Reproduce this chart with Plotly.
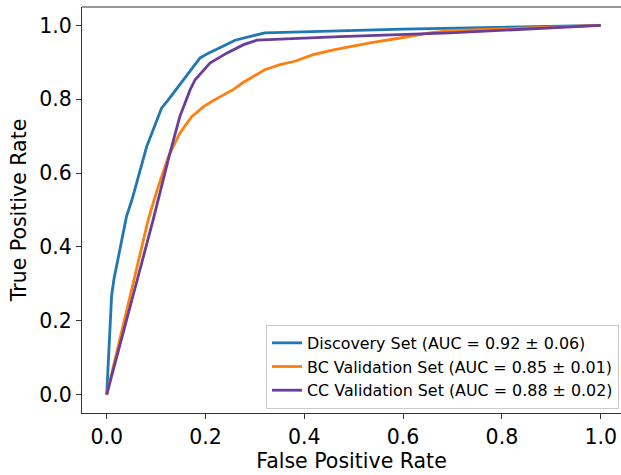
import plotly.graph_objects as go

# Discovery Set
fpr_disc = [0, 0.010, 0.015, 0.030, 0.040, 0.051, 0.071, 0.081, 0.111, 0.125, 0.189, 0.206, 0.260, 0.320, 0.600, 1.0]
tpr_disc = [0, 0.269, 0.315, 0.414, 0.482, 0.527, 0.627, 0.672, 0.776, 0.799, 0.912, 0.925, 0.960, 0.980, 0.990, 1.0]

# BC Validation Set
fpr_bc = [0, 0.084, 0.101, 0.125, 0.148, 0.172, 0.196, 0.219, 0.256, 0.277, 0.320, 0.351, 0.381, 0.418, 0.459, 0.533, 0.594, 0.654, 0.695, 1.0]
tpr_bc = [0, 0.473, 0.550, 0.645, 0.708, 0.753, 0.780, 0.799, 0.826, 0.846, 0.880, 0.894, 0.903, 0.921, 0.934, 0.953, 0.966, 0.980, 0.986, 1.0]

# CC Validation Set
fpr_cc = [0, 0.094, 0.128, 0.148, 0.169, 0.179, 0.209, 0.243, 0.277, 0.304, 0.472, 0.695, 1.0]
tpr_cc = [0, 0.473, 0.654, 0.753, 0.826, 0.853, 0.898, 0.925, 0.948, 0.960, 0.970, 0.980, 1.0]

names = ["Discovery Set (AUC = 0.92 ± 0.06)",
         "BC Validation Set (AUC = 0.85 ± 0.01)",
         "CC Validation Set (AUC = 0.88 ± 0.02)"]
colors = ["#1f77b4", "#ff7f0e", "#6a3d9a"]

x_ticks = [0.0, 0.2, 0.4, 0.6, 0.8, 1.0]
y_ticks = [0.0, 0.2, 0.4, 0.6, 0.8, 1.0]

fig = go.Figure()
for xs, ys, nm, c in zip([fpr_disc, fpr_bc, fpr_cc], [tpr_disc, tpr_bc, tpr_cc], names, colors):
    fig.add_trace(go.Scatter(x=xs, y=ys, mode="lines", name=nm,
                             line=dict(color=c, width=2.8)))

font = "DejaVu Sans"
axis_common = dict(
    showgrid=False, zeroline=False, showline=True, linecolor="#333333", linewidth=1.1,
    ticks="outside", ticklen=5, tickwidth=1.1, tickcolor="#333333",
    tickfont=dict(family=font, size=20.5, color="black"), tickformat=".1f",
)
fig.update_layout(
    width=621, height=475,
    margin=dict(l=82, r=0, t=7, b=62),
    paper_bgcolor="white", plot_bgcolor="white",
    font=dict(family=font, color="black"),
    xaxis=dict(range=[-0.05, -0.05 + 539 / 494], tickvals=x_ticks,
               title=dict(text="False Positive Rate", font=dict(family=font, size=20.5), standoff=5),
               **axis_common),
    yaxis=dict(range=[-0.05, 1.05], tickvals=y_ticks,
               title=dict(text="True Positive Rate", font=dict(family=font, size=20.5), standoff=7),
               **axis_common),
    legend=dict(x=0.9963, y=0.0098, xanchor="right", yanchor="bottom",
                bgcolor="white", bordercolor="#cccccc", borderwidth=1,
                font=dict(family=font, size=15.9, color="black"), tracegroupgap=0),
    showlegend=True,
)
fig.add_shape(type="line", xref="paper", yref="paper", x0=0, x1=1, y0=1, y1=1,
              line=dict(color="#333333", width=1.1))
fig.write_html("out.html")
